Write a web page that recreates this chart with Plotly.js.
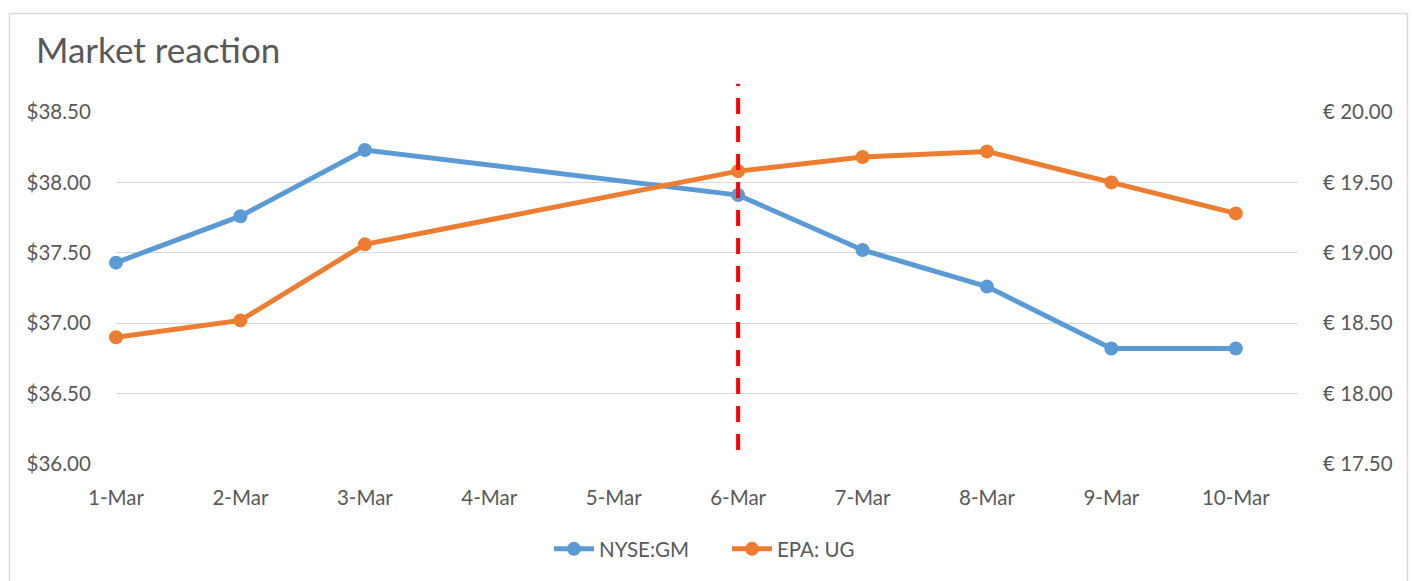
<!DOCTYPE html>
<html>
<head>
<meta charset="utf-8">
<script src="https://cdn.plot.ly/plotly-3.0.1.min.js"></script>
<style>
  html, body { margin: 0; padding: 0; background: #ffffff; }
  #chart { width: 1412px; height: 581px; }
</style>
</head>
<body>
<div id="chart"></div>
<script>
// ---- data ----
const dates = ['2017-03-01', '2017-03-02', '2017-03-03', '2017-03-06', '2017-03-07', '2017-03-08', '2017-03-09', '2017-03-10'];
const gmPrices = [37.43, 37.76, 38.23, 37.91, 37.52, 37.26, 36.82, 36.82];
const ugPrices = [18.40, 18.52, 19.06, 19.58, 19.68, 19.72, 19.50, 19.28];
const gmName = 'NYSE:GM';
const ugName = 'EPA: UG';
const eventDate = '2017-03-06';
const eventLineY = [36.10, 38.70]; // extent on the left ($) axis
const leftRange = [36.0, 38.5];
const rightRange = [17.5, 20.0];
const leftTicks = [36.0, 36.5, 37.0, 37.5, 38.0, 38.5];
const leftTickText = ['$36.00', '$36.50', '$37.00', '$37.50', '$38.00', '$38.50'];
const rightTicks = [17.5, 18.0, 18.5, 19.0, 19.5, 20.0];
const rightTickText = ['€ 17.50', '€ 18.00', '€ 18.50', '€ 19.00', '€ 19.50', '€ 20.00'];
const xRange = ['2017-03-01', '2017-03-10 12:00'];

// ---- layout geometry ----
const W = 1412, H = 581;
const mL = 116, mR = 114, mT = 112, mB = 117;
const pw = W - mL - mR, ph = H - mT - mB;
const px2x = p => (p - mL) / pw;
const py2y = p => (H - mB - p) / ph;
const t = s => new Date(s.replace(' ', 'T') + 'Z').getTime();
// event line placed through the axis scales (paper refs so it may rise above the plot)
const evX = (t(eventDate) - t(xRange[0])) / (t(xRange[1]) - t(xRange[0]));
const evY0 = (eventLineY[0] - leftRange[0]) / (leftRange[1] - leftRange[0]);
const evY1 = (eventLineY[1] - leftRange[0]) / (leftRange[1] - leftRange[0]);

const blue = '#5B9BD5', orange = '#ED7D31';
const txt = '#595959';
const font = 'Lato, "Open Sans", sans-serif';
const fs = 20.5;

const traces = [
  {
    x: dates, y: gmPrices, name: gmName, type: 'scatter', mode: 'lines+markers',
    line: {color: blue, width: 5}, marker: {color: blue, size: 14},
    cliponaxis: false, yaxis: 'y'
  },
  {
    x: dates, y: ugPrices, name: ugName, type: 'scatter', mode: 'lines+markers',
    line: {color: orange, width: 5}, marker: {color: orange, size: 14},
    cliponaxis: false, yaxis: 'y2'
  }
];

const layout = {
  width: W, height: H,
  margin: {l: mL, r: mR, t: mT, b: mB, pad: 0},
  paper_bgcolor: '#ffffff', plot_bgcolor: '#ffffff',
  font: {family: font, color: txt, size: fs},
  title: {
    text: 'Market reaction',
    font: {family: font, size: 35, color: txt},
    xref: 'container', yref: 'container',
    x: 36 / W, xanchor: 'left',
    y: 1 - 51 / H, yanchor: 'middle'
  },
  showlegend: true,
  legend: {
    orientation: 'h', x: 0.5 + 20 / pw, xanchor: 'center',
    y: py2y(549), yanchor: 'middle',
    font: {family: font, size: fs, color: txt},
    itemwidth: 40, tracegroupgap: 0, entrywidth: 123
  },
  xaxis: {
    type: 'date', range: xRange,
    tick0: '2017-03-01', dtick: 86400000, tickformat: '%-d-%b',
    showgrid: false, zeroline: false, showline: false,
    ticks: 'outside', ticklen: 15, tickcolor: 'rgba(0,0,0,0)',
    tickfont: {family: font, size: fs, color: txt},
    fixedrange: true
  },
  yaxis: {
    range: leftRange, tickvals: leftTicks, ticktext: leftTickText,
    showgrid: true, gridcolor: '#d9d9d9', gridwidth: 1.3,
    zeroline: false, showline: false,
    ticks: 'outside', ticklen: 20, tickcolor: 'rgba(0,0,0,0)',
    tickfont: {family: font, size: fs, color: txt}
  },
  yaxis2: {
    overlaying: 'y', side: 'right',
    range: rightRange, tickvals: rightTicks, ticktext: rightTickText,
    showgrid: false, zeroline: false, showline: false,
    ticks: 'outside', ticklen: 20, tickcolor: 'rgba(0,0,0,0)',
    tickfont: {family: font, size: fs, color: txt}
  },
  shapes: [
    {
      type: 'line', xref: 'paper', yref: 'paper',
      x0: evX, x1: evX, y0: evY0, y1: evY1,
      line: {color: '#FF0000', width: 4, dash: '16px,12px'},
      layer: 'above'
    },
    {
      type: 'rect', xref: 'paper', yref: 'paper',
      x0: px2x(9.5), x1: px2x(1407.5), y0: py2y(600), y1: py2y(13.5),
      line: {color: '#d9d9d9', width: 1.5}, fillcolor: 'rgba(0,0,0,0)',
      layer: 'below'
    }
  ]
};

Plotly.newPlot('chart', traces, layout, {displayModeBar: false, staticPlot: true});
</script>
</body>
</html>
